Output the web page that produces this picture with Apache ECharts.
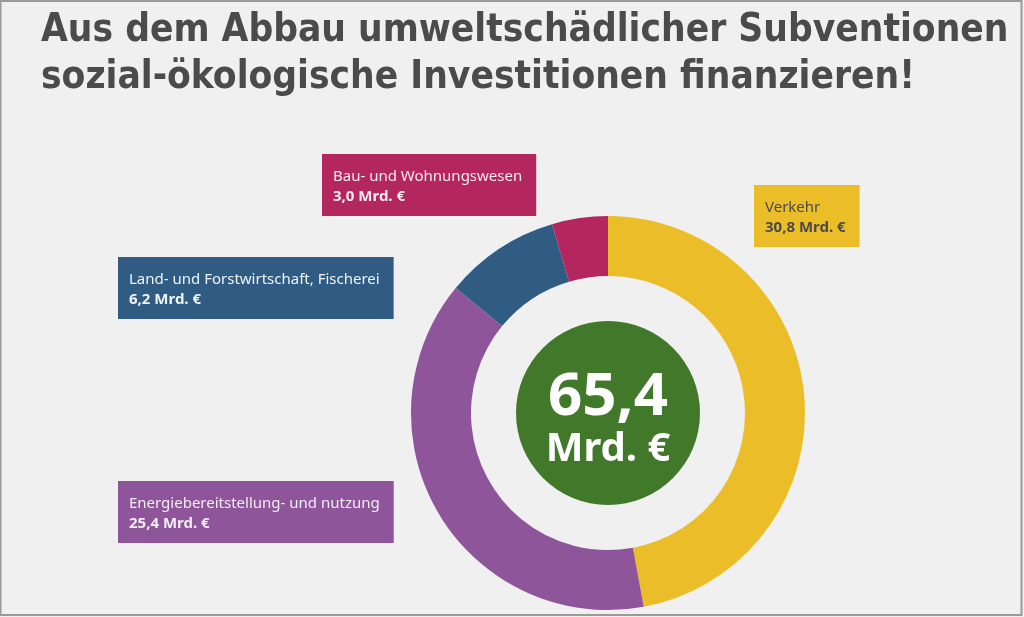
<!DOCTYPE html>
<html><head><meta charset="utf-8">
<script src="https://cdn.jsdelivr.net/npm/echarts@6/dist/echarts.min.js"></script>
<style>html,body{margin:0;padding:0;background:#f0f0f0;}#c{width:1024px;height:617px;}</style>
</head><body><div id="c"></div>
<script>
const titleLines = ['Aus dem Abbau umweltschädlicher Subventionen', 'sozial-ökologische Investitionen finanzieren!'];
const categories = ['Verkehr', 'Energiebereitstellung- und nutzung', 'Land- und Forstwirtschaft, Fischerei', 'Bau- und Wohnungswesen'];
const values = [30.8, 25.4, 6.2, 3.0];
const unit = 'Mrd. €';

const colors = ['#ebbe29', '#8e559a', '#305c84', '#b4265e'];
const textColors = ['#4a4a4a', '#f4ecf6', '#eef3f8', '#f8e9ef'];
const boxPos = [[754, 185], [118, 481], [118, 257], [322, 154]];

const fmt = v => v.toFixed(1).replace('.', ',');
const total = values.reduce((a, b) => a + b, 0);

const chart = echarts.init(document.getElementById('c'));
chart.setOption({
  backgroundColor: '#f0f0f0',
  animation: false,
  title: {
    text: titleLines.join('\n'),
    left: 36, top: 2,
    textStyle: { fontFamily: '"DejaVu Sans Condensed", "DejaVu Sans"', fontWeight: 'bold', fontSize: 38.5, color: '#4b4b4b', lineHeight: 47 }
  },
  graphic: [{
    type: 'rect', shape: { x: 0.5, y: 1, width: 1021, height: 614 },
    style: { fill: 'none', stroke: '#9a9a9a', lineWidth: 2 }, silent: true
  }],
  series: [{
    type: 'pie',
    center: [608, 413],
    radius: [137, 197],
    startAngle: 90,
    clockwise: true,
    data: categories.map((c, i) => ({
      name: c, value: values[i],
      itemStyle: { color: colors[i] },
      label: {
        backgroundColor: colors[i],
        rich: {
          a: { color: textColors[i], fontSize: 15, fontFamily: 'Noto Sans', lineHeight: 20 },
          b: { color: textColors[i], fontSize: 15, fontWeight: 'bold', fontFamily: 'Noto Sans', lineHeight: 20 }
        }
      }
    })),
    label: {
      show: true,
      formatter: p => '{a|' + p.name + '}\n{b|' + fmt(p.value) + ' ' + unit + '}',
      padding: [13, 14, 9, 11]
    },
    labelLine: { show: false },
    labelLayout: p => ({ x: boxPos[p.dataIndex][0], y: boxPos[p.dataIndex][1], align: 'left', verticalAlign: 'top', hideOverlap: false }),
    emphasis: { disabled: true }
  }, {
    type: 'pie',
    center: [608, 413],
    radius: [0, 92],
    silent: true,
    data: [{ value: total, itemStyle: { color: '#41782a' } }],
    label: {
      show: true, position: 'center',
      formatter: () => '{n|' + fmt(total) + '}\n{u|' + unit + '}',
      rich: {
        n: { fontSize: 60, fontWeight: 'bold', color: '#ffffff', fontFamily: 'Noto Sans', lineHeight: 74 },
        u: { fontSize: 40, fontWeight: 'bold', color: '#ffffff', fontFamily: 'Noto Sans', lineHeight: 30 }
      }
    },
    labelLine: { show: false }
  }]
});
</script></body></html>
